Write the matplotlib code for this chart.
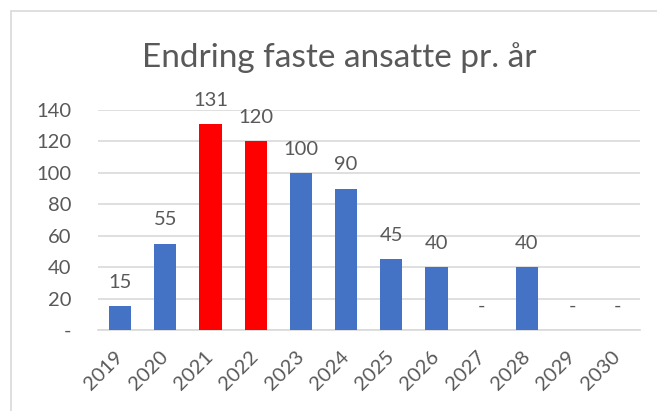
import matplotlib
matplotlib.use("Agg")
import matplotlib.pyplot as plt
from matplotlib.patches import Rectangle

years = ["2019", "2020", "2021", "2022", "2023", "2024", "2025", "2026", "2027", "2028", "2029", "2030"]
values = [15, 55, 131, 120, 100, 90, 45, 40, 0, 40, 0, 0]
highlight = ["2021", "2022"]
yticks = [0, 20, 40, 60, 80, 100, 120, 140]
ytick_labels = ["-", "20", "40", "60", "80", "100", "120", "140"]
title = "Endring faste ansatte pr. år"

BLUE = "#4472C4"
RED = "#FF0000"
TXT = "#595959"
GRID = "#D9D9D9"

plt.rcParams['font.family'] = ['Lato', 'DejaVu Sans']

fig = plt.figure(figsize=(6.57, 4.11), dpi=100)
fig.patch.set_facecolor("white")
# chart frame
fig.patches.append(Rectangle((11/657, -0.05), 1.2, 1 - 11/411 + 0.05, transform=fig.transFigure,
                             fill=False, edgecolor=GRID, linewidth=1.2))

ax = fig.add_axes([97.5/657, 1 - 330/411, (640 - 97.5)/657, 220/411])
x = list(range(len(years)))
colors = [RED if y in highlight else BLUE for y in years]
ax.bar(x, values, width=0.49, color=colors, zorder=3)

ax.set_xlim(-0.5, len(years) - 0.5)
ax.set_ylim(0, 140)
ax.set_yticks(yticks)
ax.set_yticklabels(ytick_labels)
ax.set_xticks(x)
ax.set_xticklabels(years, rotation=45, ha='right', rotation_mode='anchor')
ax.tick_params(axis='both', length=0, colors=TXT, labelsize=14.5)
ax.tick_params(axis='y', pad=19)
ax.tick_params(axis='x', pad=17)
for lbl in ax.get_xticklabels():
    lbl.set_va('center')
ax.grid(axis='y', color=GRID, linewidth=1.2, zorder=0)
for s in ['top', 'right', 'left']:
    ax.spines[s].set_visible(False)
ax.spines['bottom'].set_color(GRID)
ax.spines['bottom'].set_linewidth(1.2)
ax.set_facecolor('none')

for xi, v in zip(x, values):
    ax.annotate("-" if v == 0 else str(v), (xi, v), xytext=(0, 17), textcoords='offset points',
                ha='center', va='center', fontsize=14.5, color=TXT)

fig.text(339/657, 1 - 58/411, title, ha='center', va='center', fontsize=24, color=TXT)

fig.savefig("out.png", dpi=100)
